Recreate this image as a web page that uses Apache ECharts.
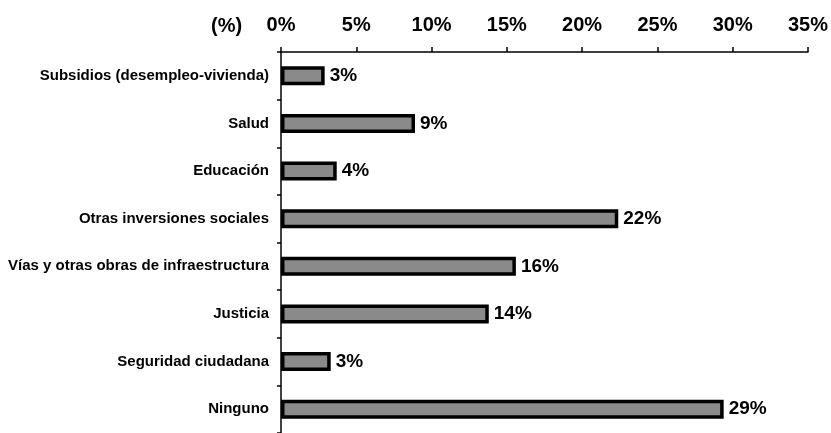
<!DOCTYPE html>
<html>
<head>
<meta charset="utf-8">
<script src="https://cdn.jsdelivr.net/npm/echarts@6/dist/echarts.min.js"></script>
<style>
html,body{margin:0;padding:0;background:#fff;}
#c{width:831px;height:433px;}
</style>
</head>
<body>
<div id="c"></div>
<script>
var categories = ["Subsidios (desempleo-vivienda)", "Salud", "Educación", "Otras inversiones sociales", "Vías y otras obras de infraestructura", "Justicia", "Seguridad ciudadana", "Ninguno"];
var values = [2.9, 8.9, 3.7, 22.4, 15.6, 13.8, 3.3, 29.4];
var axisMin = 0, axisMax = 35, axisStep = 5;

var FONT = "'Liberation Sans', Arial, sans-serif";
var chart = echarts.init(document.getElementById('c'), null, {renderer: 'canvas'});
chart.setOption({
  animation: false,
  backgroundColor: '#ffffff',
  graphic: [{
    type: 'text', left: 211, top: 16,
    style: {text: '(%)', font: 'bold 20px ' + FONT, fill: '#000'}
  }],
  grid: {left: 281, right: 22, top: 52, bottom: -2, containLabel: false},
  xAxis: {
    type: 'value', position: 'top', min: axisMin, max: axisMax, interval: axisStep,
    axisLine: {show: true, lineStyle: {color: '#000', width: 1.5}},
    axisTick: {show: true, length: 5, lineStyle: {color: '#000', width: 1.5}},
    splitLine: {show: false},
    axisLabel: {formatter: function(v){return v + '%';}, color: '#000', fontSize: 20, fontWeight: 'bold', fontFamily: FONT, margin: 17}
  },
  yAxis: {
    type: 'category', data: categories, inverse: true,
    axisLine: {show: true, lineStyle: {color: '#000', width: 1.5}},
    axisTick: {show: true, length: 4, lineStyle: {color: '#000', width: 1.5}},
    axisLabel: {color: '#000', fontSize: 15, fontWeight: 'bold', fontFamily: FONT, margin: 12}
  },
  series: [{
    type: 'bar', data: values, barWidth: 19,
    itemStyle: {color: '#8a8a8a', borderColor: '#000', borderWidth: 3.5},
    label: {show: true, position: 'right', distance: 5, color: '#000', fontSize: 19, fontWeight: 'bold', fontFamily: FONT,
      formatter: function(p){return Math.round(p.value) + '%';}}
  }]
});
</script>
</body>
</html>
